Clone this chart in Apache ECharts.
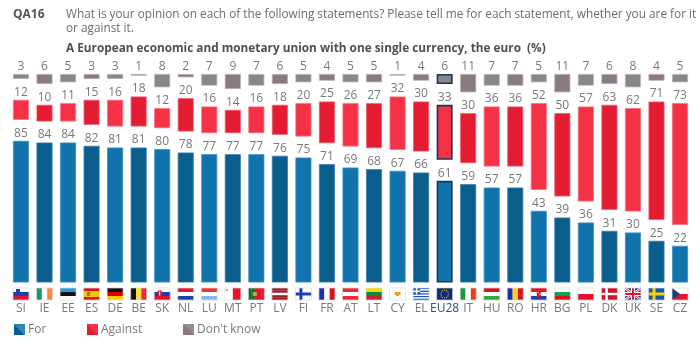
<!DOCTYPE html>
<html><head><meta charset="utf-8">
<script src="https://cdn.jsdelivr.net/npm/echarts@6/dist/echarts.min.js"></script>
<style>html,body{margin:0;padding:0;background:#fff}#c{width:700px;height:350px}</style>
</head><body><div id="c"></div>
<script>
const countries = ['SI','IE','EE','ES','DE','BE','SK','NL','LU','MT','PT','LV','FI','FR','AT','LT','CY','EL','EU28','IT','HU','RO','HR','BG','PL','DK','UK','SE','CZ'];
const forValues = [85,84,84,82,81,81,80,78,77,77,77,76,75,71,69,68,67,66,61,59,57,57,43,39,36,31,30,25,22];
const againstValues = [12,10,11,15,16,18,12,20,16,14,16,18,20,25,26,27,32,30,33,30,36,36,52,50,57,63,62,71,73];
const dontKnowValues = [3,6,5,3,3,1,8,2,7,9,7,6,5,4,5,5,1,4,6,11,7,7,5,11,7,6,8,4,5];
const panelGap = 12.6;
const axisMax = 125.1;
const flagStripes = {
 SI:['h','#fff','#1a3fb5','#e8112d'],IE:['v','#169b62','#fff','#ff883e'],EE:['h','#2a9be0','#111','#fff'],ES:['h','#d8141c','#f6c400','#f6c400','#d8141c'],
 DE:['h','#111','#d00','#fc0'],BE:['v','#111','#fae042','#ed2939'],SK:['h','#fff','#1a3fb5','#e8112d'],NL:['h','#e0162b','#fff','#1e3fb0'],
 LU:['h','#ef3340','#fff','#80b8f5'],MT:['v','#fff','#e8112d'],PT:['v','#0a6b2d','#0a6b2d','#e8112d','#e8112d','#e8112d'],LV:['h','#9e1b22','#9e1b22','#fff','#9e1b22','#9e1b22'],
 FI:['h','#fff'],FR:['v','#1a2fb0','#fff','#d8141c'],AT:['h','#ed2939','#fff','#ed2939'],LT:['h','#f5d800','#0a8a3c','#c1272d'],
 CY:['h','#fff'],EL:['h','#1f4fc0','#fff','#1f4fc0','#fff','#1f4fc0','#fff','#1f4fc0','#fff','#1f4fc0'],EU28:['h','#0b2a80'],IT:['v','#169b45','#fff','#f03a17'],
 HU:['h','#d8141c','#fff','#2ea836'],RO:['v','#1a2fb0','#fcd116','#d8141c'],HR:['h','#e0162b','#fff','#1e3fb0'],BG:['h','#fff','#00a651','#d8141c'],
 PL:['h','#fff','#e8112d'],DK:['h','#d0122c'],UK:['h','#1a2f90'],SE:['h','#1256b0'],CZ:['h','#fff','#e8112d']
};
const question1 = 'What is your opinion on each of the following statements? Please tell me for each statement, whether you are for it';
const question2 = 'or against it.';
const subtitle = 'A European economic and monetary union with one single currency, the euro  (%)';

const fontFam = '"Open Sans", "Noto Sans", sans-serif';
const labelColor = '#787878';
const navy = '#1d3557';
const palette = {
  'For':[['#1173ac','#3f8fbf'],['#0a5e8e','#3a7fa6']],
  'Against':[['#f53145','#f9707e'],['#e31c32','#ee6070']],
  "Don't know":[['#878787','#b5b5b5'],['#8a7a7d','#b8abad']]
};
function dataFor(name, vals){
  return vals.map((v,i)=>{
    const p = palette[name][i%2];
    const eu = countries[i]==='EU28';
    return {value:v,itemStyle:{color:p[0],borderColor:eu?navy:p[1],borderWidth:eu?1.6:0.8}};
  });
}
function splitLegend(a,b){
  return new echarts.graphic.LinearGradient(0,1,1,0,[{offset:0,color:a},{offset:0.5,color:a},{offset:0.5,color:b},{offset:1,color:b}]);
}
function labelCfg(){return {show:true,position:'top',distance:1.5,color:labelColor,fontFamily:fontFam,fontSize:12};}
function legendCfg(left,name,c1,c2){
  return {left:left,top:323.5,padding:0,itemWidth:11,itemHeight:11,icon:'rect',selectedMode:false,
    textStyle:{color:'#787878',fontFamily:fontFam,fontSize:12,padding:[1,0,0,-2]},
    data:[{name:name,itemStyle:{color:splitLegend(c1,c2)}}]};
}

function renderFlag(params, api){
  const i = api.value(0);
  const code = countries[i];
  const spec = flagStripes[code];
  const base = api.coord([i,0]);
  const W=16,H=12, x0=base[0]-W/2, y0=base[1]+5.5;
  const kids=[];
  const r=(x,y,w,h,c)=>kids.push({type:'rect',shape:{x:x0+x,y:y0+y,width:w,height:h},style:{fill:c}});
  const dir=spec[0], cols=spec.slice(1);
  cols.forEach((c,k)=>{
    if(dir==='h') r(0,k*H/cols.length,W,H/cols.length+0.1,c);
    else r(k*W/cols.length,0,W/cols.length+0.1,H,c);
  });
  if(code==='ES') r(3.5,4,3,4,'#b5651d');
  if(code==='SI') r(3,1,4,4,'#1a3fb5');
  if(code==='SK') r(3.5,2.5,4,6,'#e8112d'),r(5,3.5,1,4,'#fff');
  if(code==='MT') r(1,1,2,2,'#aaa');
  if(code==='PT') r(4.5,4,4,4,'#c9a227');
  if(code==='FI') r(4,0,3,H,'#1a3fb5'),r(0,4.5,W,3,'#1a3fb5');
  if(code==='CY') r(5,4,6,3,'#e0a030'),r(7,7,2,1,'#7a9a4a');
  if(code==='EL') r(0,0,7,6.6,'#1f4fc0'),r(2.7,0,1.6,6.6,'#fff'),r(0,2.5,7,1.6,'#fff');
  if(code==='HR') r(6,3,4,6,'#d8141c'),r(7,4,1,1,'#fff'),r(8.5,6,1,1,'#fff');
  if(code==='DK') r(4,0,2.4,H,'#fff'),r(0,4.8,W,2.4,'#fff');
  if(code==='SE') r(4,0,3,H,'#f7d000'),r(0,4.5,W,3,'#f7d000');
  if(code==='UK'){
    kids.push({type:'line',shape:{x1:x0,y1:y0,x2:x0+W,y2:y0+H},style:{stroke:'#fff',lineWidth:2.4}});
    kids.push({type:'line',shape:{x1:x0+W,y1:y0,x2:x0,y2:y0+H},style:{stroke:'#fff',lineWidth:2.4}});
    kids.push({type:'line',shape:{x1:x0,y1:y0,x2:x0+W,y2:y0+H},style:{stroke:'#e0162b',lineWidth:0.9}});
    kids.push({type:'line',shape:{x1:x0+W,y1:y0,x2:x0,y2:y0+H},style:{stroke:'#e0162b',lineWidth:0.9}});
    r(6,0,4,H,'#fff'),r(0,4,W,4,'#fff'),r(7,0,2,H,'#e0162b'),r(0,5,W,2,'#e0162b');
  }
  if(code==='CZ') kids.push({type:'polygon',shape:{points:[[x0,y0],[x0+8,y0+6],[x0,y0+H]]},style:{fill:'#16407f'}});
  if(code==='EU28'){
    for(let a=0;a<12;a++){
      const t=a*Math.PI/6;
      kids.push({type:'circle',shape:{cx:x0+8+Math.cos(t)*3.8,cy:y0+6+Math.sin(t)*3.8,r:0.6},style:{fill:'#f5d000'}});
    }
  }
  kids.push({type:'rect',shape:{x:x0,y:y0,width:W,height:H},style:{fill:'none',stroke:'#dddddd',lineWidth:0.7}});
  return {type:'group',children:kids};
}

const chart = echarts.init(document.getElementById('c'),null,{renderer:'canvas'});
chart.setOption({
  animation:false,
  backgroundColor:'#fff',
  textStyle:{fontFamily:fontFam},
  grid:{left:9.2,right:8.2,top:74,bottom:67.5,containLabel:false},
  title:[
    {text:'QA16',left:13,top:9,padding:0,textStyle:{fontFamily:fontFam,fontSize:12,fontWeight:'bold',color:'#5a5258'}},
    {text:question1,left:66,top:9,padding:0,textStyle:{fontFamily:fontFam,fontSize:11.8,fontWeight:'normal',color:'#6e6a6c'}},
    {text:question2,left:66,top:23,padding:0,textStyle:{fontFamily:fontFam,fontSize:11.8,fontWeight:'normal',color:'#6e6a6c'}},
    {text:subtitle,left:66,top:43,padding:0,textStyle:{fontFamily:fontFam,fontSize:11.8,fontWeight:'bold',color:'#544c52'}}
  ],
  legend:[
    legendCfg(14,'For','#0a5e8e','#2f86ba'),
    legendCfg(87,'Against','#e31c32','#f53145'),
    legendCfg(183,"Don't know",'#8a7a7d','#8f8f8f')
  ],
  xAxis:{type:'category',data:countries,axisLine:{show:false},axisTick:{show:false},
    axisLabel:{interval:0,margin:20,fontFamily:fontFam,fontSize:12,
      color:function(v){return v==='EU28'?'#33507a':'#787878';}}},
  yAxis:[
    {type:'value',min:0,max:axisMax,show:false},
    {type:'value',min:0,max:axisMax,inverse:true,show:false}
  ],
  series:[
    {name:'For',type:'bar',stack:'a',barWidth:16,data:dataFor('For',forValues),
     label:labelCfg(),itemStyle:{color:'#0a5e8e'}},
    {name:'gap',type:'bar',stack:'a',barWidth:16,silent:true,
     data:countries.map(()=>panelGap),itemStyle:{color:'transparent'}},
    {name:'Against',type:'bar',stack:'a',barWidth:16,data:dataFor('Against',againstValues),
     label:labelCfg(),itemStyle:{color:'#e31c32'}},
    {name:"Don't know",type:'bar',yAxisIndex:1,barWidth:16,barGap:'-100%',data:dataFor("Don't know",dontKnowValues),
     label:{show:false},itemStyle:{color:'#8a7a7d'}},
    {name:'dkLabels',type:'custom',yAxisIndex:1,silent:true,clip:false,
     data:dontKnowValues.map((v,i)=>[i,v]),
     renderItem:function(p,api){
       const c=api.coord([api.value(0),0]);
       return {type:'text',style:{text:String(api.value(1)),x:c[0],y:c[1]-1.5,align:'center',verticalAlign:'bottom',fill:labelColor,fontFamily:fontFam,fontSize:12}};
     }},
    {name:'flags',type:'custom',silent:true,clip:false,
     data:countries.map((c,i)=>[i]),encode:{x:0},renderItem:renderFlag}
  ]
});
</script></body></html>
